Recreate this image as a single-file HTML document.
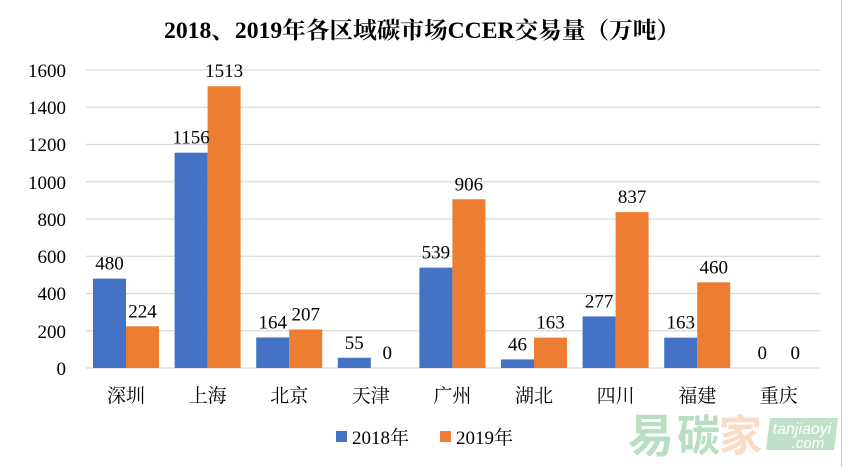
<!DOCTYPE html>
<html><head><meta charset="utf-8"><style>
body{margin:0;background:#fff}
</style></head><body>
<svg width="844" height="467" xmlns="http://www.w3.org/2000/svg" style="display:block;font-family:'Liberation Serif','Noto Serif CJK SC',serif">
<rect x="0" y="0" width="844" height="467" fill="#fff"/>
<line x1="841.5" y1="0" x2="841.5" y2="467" stroke="#ccc"/>
<text x="422" y="38" text-anchor="middle" font-size="23" font-weight="bold" fill="#000" textLength="516" lengthAdjust="spacingAndGlyphs">2018、2019年各区域碳市场CCER交易量（万吨）</text>
<g stroke="#d9d9d9" stroke-width="1.3">
<line x1="86" x2="820" y1="70" y2="70"/><line x1="86" x2="820" y1="107.25" y2="107.25"/>
<line x1="86" x2="820" y1="144.5" y2="144.5"/><line x1="86" x2="820" y1="181.75" y2="181.75"/>
<line x1="86" x2="820" y1="219" y2="219"/><line x1="86" x2="820" y1="256.25" y2="256.25"/>
<line x1="86" x2="820" y1="293.5" y2="293.5"/><line x1="86" x2="820" y1="330.75" y2="330.75"/>
<line x1="86" x2="820" y1="368" y2="368"/>
</g>
<g font-size="19" text-anchor="end" fill="#000">
<text x="66" y="77">1600</text><text x="66" y="114">1400</text><text x="66" y="151">1200</text>
<text x="66" y="189">1000</text><text x="66" y="226">800</text><text x="66" y="263">600</text>
<text x="66" y="300">400</text><text x="66" y="338">200</text><text x="66" y="375">0</text>
</g>
<g id="bars"></g>
<g font-size="19" text-anchor="middle" fill="#000" id="labels"></g>
<g font-size="19" text-anchor="middle" fill="#000" id="cats"></g>
<rect x="336" y="431" width="11" height="11" fill="#4472c4"/>
<text x="352" y="444" font-size="19" fill="#000">2018年</text>
<rect x="440" y="431" width="11" height="11" fill="#ed7d31"/>
<text x="456" y="444" font-size="19" fill="#000">2019年</text>
<g font-family="'Noto Sans CJK SC',sans-serif" font-weight="bold">
<text x="628" y="452" font-size="46" fill="#b9dfc2">易</text>
<text x="677" y="451" font-size="43" fill="#b9dfc2">碳</text>
<text x="719" y="451" font-size="43" fill="#f9dcc6">家</text>
</g>
<polygon points="770,418 838,418 834,450 766,450" fill="#bfe1c7"/>
<text x="802" y="434" font-size="16" fill="#fff" text-anchor="middle" font-family="'Liberation Sans',sans-serif" font-style="italic">tanjiaoyi</text>
<text x="808" y="448" font-size="15" fill="#fff" text-anchor="middle" font-family="'Liberation Sans',sans-serif" font-style="italic">.com</text>
<script>
var d=[["深圳",480,224],["上海",1156,1513],["北京",164,207],["天津",55,0],["广州",539,906],["湖北",46,163],["四川",277,837],["福建",163,460],["重庆",0,0]];
var ns="http://www.w3.org/2000/svg",b=document.getElementById("bars"),l=document.getElementById("labels"),c=document.getElementById("cats");
function el(p,t,a,txt){var e=document.createElementNS(ns,t);for(var k in a)e.setAttribute(k,a[k]);if(txt!=null)e.textContent=txt;p.appendChild(e);}
d.forEach(function(r,i){var cx=126+i*81.6;
[[r[1],cx-33,"#4472c4"],[r[2],cx,"#ed7d31"]].forEach(function(s){var h=s[0]*0.18625;
if(h>0)el(b,"rect",{x:s[1],y:368-h,width:33,height:h,fill:s[2]});
el(l,"text",{x:s[1]+16.5,y:368-h-9},String(s[0]));});
el(c,"text",{x:cx,y:402},r[0]);});
</script>
</svg>
</body></html>
